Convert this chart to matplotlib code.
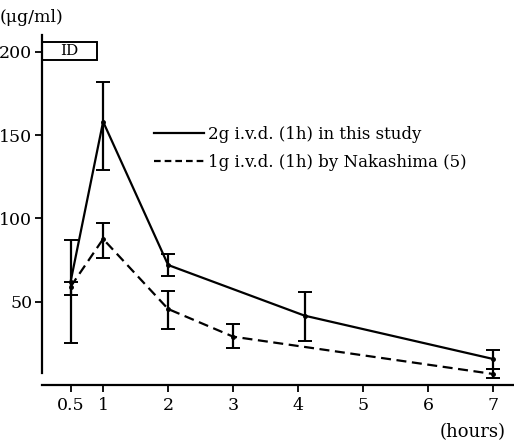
import numpy as np
import matplotlib.pyplot as plt
from matplotlib.patches import Rectangle

# values
hours_study = [0.5, 1, 2, 4.1, 7]
conc_study = [62, 158, 72, 41.6, 15.6]
low_study = [54, 129, 65.6, 26.4, 9.6]
high_study = [87, 182, 78.6, 55.8, 21]

hours_naka = [0.5, 1, 2, 3, 7]
conc_naka = [59, 87.6, 45.6, 29, 6.6]
low_naka = [25, 76, 33.6, 22.2, 4]
high_naka = [62, 97, 56.4, 36.6, 9.6]

xticks = [0.5, 1, 2, 3, 4, 5, 6, 7]
xtick_labels = ['0.5', '1', '2', '3', '4', '5', '6', '7']
yticks = [50, 100, 150, 200]

plt.rcParams['font.family'] = ['DejaVu Serif']

fig = plt.figure(figsize=(5.14, 4.45), dpi=100)
ax = fig.add_axes([42 / 514, 60 / 445, 472 / 514, 350 / 445])

def err(c, lo, hi):
    c = np.array(c)
    return [c - np.array(lo), np.array(hi) - c]

ax.errorbar(hours_study, conc_study, yerr=err(conc_study, low_study, high_study),
            color='black', lw=1.6, ls='-', marker='o', ms=2.5, capsize=5,
            elinewidth=1.6, capthick=1.4, label='2g i.v.d. (1h) in this study')
ax.errorbar(hours_naka, conc_naka, yerr=err(conc_naka, low_naka, high_naka),
            color='black', lw=1.6, ls=(0, (4.5, 2.5)), marker='o', ms=2.5, capsize=5,
            elinewidth=1.6, capthick=1.4, label='1g i.v.d. (1h) by Nakashima (5)')

ax.set_xlim(0.06, 7.32)
ax.set_ylim(0, 210)

for s in ['top', 'right']:
    ax.spines[s].set_visible(False)
ax.spines['left'].set_bounds(7, 210)
ax.spines['left'].set_linewidth(1.6)
ax.spines['bottom'].set_linewidth(1.6)

ax.set_xticks(xticks)
ax.set_xticklabels(xtick_labels)
ax.set_yticks(yticks)
ax.tick_params(axis='both', direction='out', length=5, width=1.3, labelsize=12.5)
ax.tick_params(axis='y', pad=2)

# ID box on top of the axis
ax.add_patch(Rectangle((0.06, 195), 0.85, 10.8, fill=False, lw=1.4,
                       edgecolor='black', clip_on=False))
ax.text(0.48, 200.4, 'ID', ha='center', va='center', fontsize=11)

fig.text(0.0, 445 - 17, '(μg/ml)', transform=None, fontsize=12.5, va='center', ha='left')
fig.text(506, 445 - 432, '(hours)', transform=None, fontsize=13, va='center', ha='right')

handles = [plt.Line2D([], [], color='black', lw=1.6, ls='-'),
           plt.Line2D([], [], color='black', lw=1.6, ls=(0, (3, 1.8)))]
labels = ['2g i.v.d. (1h) in this study', '1g i.v.d. (1h) by Nakashima (5)']
ax.legend(handles, labels, loc='upper left', bbox_to_anchor=(146 / 514, 1 - 118 / 445),
          bbox_transform=fig.transFigure, frameon=False, fontsize=12,
          handlelength=3.0, handletextpad=0.25, labelspacing=0.62, borderpad=0)

fig.savefig('out.png', dpi=100)
